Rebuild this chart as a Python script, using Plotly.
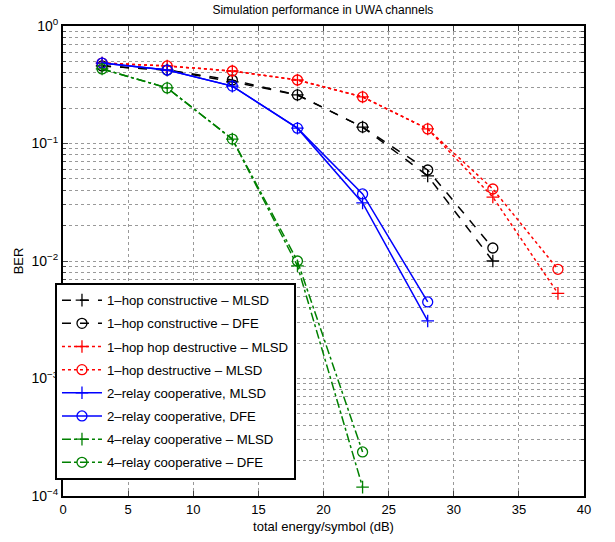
import plotly.graph_objects as go

# ---- data ----
snr_1hop = [3, 8, 13, 18, 23, 28, 33]
snr_1hop_d = [3, 8, 13, 18, 23, 28, 33, 38]
snr_2relay = [3, 8, 13, 18, 23, 28]
snr_4relay = [3, 8, 13, 18, 23]

ber_1hop_con_mlsd = [0.457, 0.422, 0.335, 0.259, 0.138, 0.053, 0.0100]
ber_1hop_con_dfe = [0.457, 0.422, 0.347, 0.259, 0.138, 0.0595, 0.0129]
ber_1hop_des_mlsd = [0.484, 0.457, 0.414, 0.347, 0.249, 0.133, 0.035, 0.0053]
ber_1hop_des_dfe = [0.484, 0.457, 0.414, 0.347, 0.249, 0.133, 0.041, 0.0085]
ber_2relay_mlsd = [0.484, 0.422, 0.308, 0.135, 0.0312, 0.00309]
ber_2relay_dfe = [0.484, 0.422, 0.308, 0.135, 0.0372, 0.00448]
ber_4relay_mlsd = [0.431, 0.297, 0.109, 0.0091, 0.000119]
ber_4relay_dfe = [0.431, 0.297, 0.109, 0.0100, 0.000237]

names = [
    "1–hop constructive – MLSD",
    "1–hop constructive – DFE",
    "1–hop hop destructive – MLSD",
    "1–hop destructive – MLSD",
    "2–relay cooperative, MLSD",
    "2–relay cooperative, DFE",
    "4–relay cooperative – MLSD",
    "4–relay cooperative – DFE",
]

y_tickvals = [1e-4, 1e-3, 1e-2, 1e-1, 1]
y_ticktext = ["10<sup>−4</sup>", "10<sup>−3</sup>", "10<sup>−2</sup>", "10<sup>−1</sup>", "10<sup>0</sup>"]
x_tickvals = [0, 5, 10, 15, 20, 25, 30, 35, 40]

# ---- figure ----
series = [
    (snr_1hop, ber_1hop_con_mlsd, "black", "dash", "cross-thin-open"),
    (snr_1hop, ber_1hop_con_dfe, "black", "dash", "circle-open"),
    (snr_1hop_d, ber_1hop_des_mlsd, "red", "dot", "cross-thin-open"),
    (snr_1hop_d, ber_1hop_des_dfe, "red", "dot", "circle-open"),
    (snr_2relay, ber_2relay_mlsd, "blue", "solid", "cross-thin-open"),
    (snr_2relay, ber_2relay_dfe, "blue", "solid", "circle-open"),
    (snr_4relay, ber_4relay_mlsd, "green", "dashdot", "cross-thin-open"),
    (snr_4relay, ber_4relay_dfe, "green", "dashdot", "circle-open"),
]

fig = go.Figure()
for i, ((x, y, c, dash, sym), nm) in enumerate(zip(series, names)):
    fig.add_trace(go.Scatter(
        x=x, y=y, name=nm, mode="lines+markers",
        line=dict(color=c, dash=dash, width=1.5),
        marker=dict(symbol=sym, size=10 if "circle" in sym else 9, color=c,
                    line=dict(color=c, width=1.3)),
        legendgroup=f"g{i}",
    ))

minor_y = [m * 10 ** e for e in range(-4, 0) for m in range(2, 10)]

fig.update_layout(
    width=615, height=542,
    paper_bgcolor="white", plot_bgcolor="white",
    font=dict(family="Liberation Sans, Arial, sans-serif", size=13, color="black"),
    margin=dict(l=63, r=31, t=26, b=46, autoexpand=False),
    title=dict(text="Simulation performance in UWA channels", x=0.525, xanchor="center",
               y=0.9815, yanchor="middle", font=dict(size=12)),
    legend=dict(x=-0.0154, y=0.453, xanchor="left", yanchor="top",
                bgcolor="white", bordercolor="black", borderwidth=2,
                font=dict(size=13.2), tracegroupgap=3, itemwidth=40),
    showlegend=True,
)

fig.update_xaxes(
    range=[0, 40], tickvals=x_tickvals, ticks="inside", ticklen=5,
    showline=True, linecolor="black", linewidth=2, mirror="ticks",
    showgrid=True, gridcolor="#999", griddash="dot", gridwidth=1,
    zeroline=False, tickfont=dict(size=13), automargin=False,
    title=dict(text="total energy/symbol (dB)", standoff=6, font=dict(size=13)),
)
fig.update_yaxes(
    type="log", range=[-4, 0], tickvals=y_tickvals, ticktext=y_ticktext,
    ticks="inside", ticklen=5, automargin=False,
    showline=True, linecolor="black", linewidth=2, mirror="ticks",
    showgrid=True, gridcolor="#999", griddash="dot", gridwidth=1,
    zeroline=False, tickfont=dict(size=14),
    minor=dict(tickmode="array", tickvals=minor_y, ticks="inside", ticklen=3,
               showgrid=True, gridcolor="#999", griddash="dot", gridwidth=1),
    title=dict(text="BER", standoff=5, font=dict(size=13)),
)

fig.write_html("out.html", config={"displayModeBar": False},
               post_script="document.body.style.margin='0';")
